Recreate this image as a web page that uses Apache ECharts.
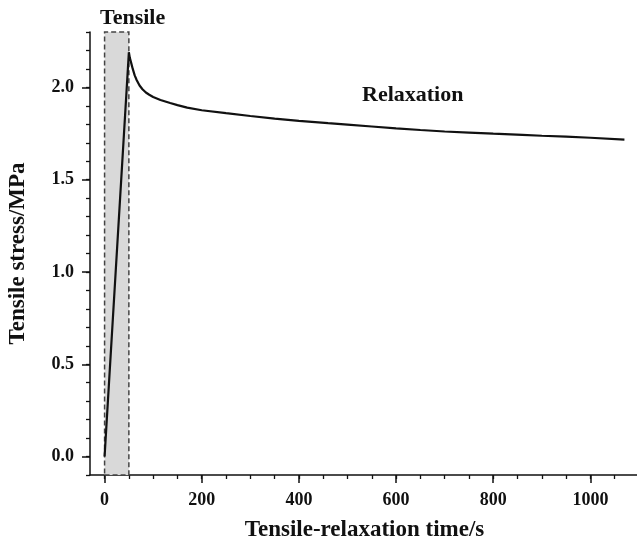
<!DOCTYPE html>
<html>
<head>
<meta charset="utf-8">
<script src="https://cdn.jsdelivr.net/npm/echarts@6/dist/echarts.min.js"></script>
<style>
  html, body { margin: 0; padding: 0; background: #fff; }
  #myChart { width: 637px; height: 548px; }
</style>
</head>
<body>
<div id="myChart"></div>
<script>
// data
var timeData   = [0, 50, 52, 55, 58, 62, 66, 72, 78, 85, 92, 100, 115, 135, 150, 170, 200, 250, 300, 350, 400, 460, 500, 550, 600, 650, 700, 750, 800, 860, 900, 950, 1000, 1070];
var stressData = [0, 2.19, 2.16, 2.13, 2.10, 2.065, 2.04, 2.01, 1.99, 1.972, 1.96, 1.948, 1.932, 1.915, 1.904, 1.89, 1.876, 1.86, 1.845, 1.831, 1.819, 1.806, 1.798, 1.788, 1.778, 1.769, 1.761, 1.755, 1.749, 1.743, 1.738, 1.733, 1.727, 1.717];
var tensileRange = [0, 50];

var xMajor = [0, 200, 400, 600, 800, 1000];
var xMinor = [0, 50, 100, 150, 200, 250, 300, 350, 400, 450, 500, 550, 600, 650, 700, 750, 800, 850, 900, 950, 1000, 1050, 1100];
var yMajor = [0, 0.5, 1.0, 1.5, 2.0];
var yMinor = [-0.1, 0, 0.1, 0.2, 0.3, 0.4, 0.5, 0.6, 0.7, 0.8, 0.9, 1.0, 1.1, 1.2, 1.3, 1.4, 1.5, 1.6, 1.7, 1.8, 1.9, 2.0, 2.1, 2.2, 2.3];

var font = '"Liberation Serif", "Times New Roman", serif';
var myChart = echarts.init(document.getElementById('myChart'));

var lineData = timeData.map(function (t, i) { return [t, stressData[i]]; });

var option = {
  backgroundColor: '#fff',
  animation: false,
  grid: {
    left: 90,
    top: 32,
    width: 549,
    height: 443,
    containLabel: false,
    outerBoundsMode: 'none'
  },
  xAxis: [
    {
      type: 'value',
      min: -30,
      max: 1100,
      name: 'Tensile-relaxation time/s',
      nameLocation: 'middle',
      nameGap: 44,
      nameTextStyle: { fontFamily: font, fontWeight: 'bold', fontSize: 23, color: '#111' },
      splitLine: { show: false },
      axisLine: { onZero: false, lineStyle: { color: '#111', width: 1.5 } },
      axisTick: { customValues: xMajor, length: 8, lineStyle: { color: '#111', width: 1.5 } },
      axisLabel: {
        customValues: xMajor,
        margin: 16,
        formatter: function (v) { return String(v); },
        fontFamily: font, fontWeight: 'bold', fontSize: 18, color: '#111'
      }
    },
    {
      type: 'value',
      min: -30,
      max: 1100,
      position: 'bottom',
      splitLine: { show: false },
      axisLine: { show: false, onZero: false },
      axisTick: { customValues: xMinor, length: 4, lineStyle: { color: '#111', width: 1.3 } },
      axisLabel: { show: false }
    }
  ],
  yAxis: [
    {
      type: 'value',
      min: -0.1,
      max: 2.3,
      name: 'Tensile stress/MPa',
      nameLocation: 'middle',
      nameGap: 60,
      nameTextStyle: { fontFamily: font, fontWeight: 'bold', fontSize: 23, color: '#111' },
      splitLine: { show: false },
      axisLine: { show: true, onZero: false, lineStyle: { color: '#111', width: 1.5 } },
      axisTick: { customValues: yMajor, length: 8, lineStyle: { color: '#111', width: 1.5 } },
      axisLabel: {
        customValues: yMajor,
        margin: 16,
        formatter: function (v) { return v.toFixed(1); },
        fontFamily: font, fontWeight: 'bold', fontSize: 18, color: '#111'
      }
    },
    {
      type: 'value',
      min: -0.1,
      max: 2.3,
      position: 'left',
      splitLine: { show: false },
      axisLine: { show: false, onZero: false },
      axisTick: { customValues: yMinor, length: 4, lineStyle: { color: '#111', width: 1.3 } },
      axisLabel: { show: false }
    }
  ],
  series: [
    {
      type: 'line',
      data: lineData,
      smooth: false,
      showSymbol: false,
      lineStyle: { color: '#111', width: 2.2 },
      markArea: {
        silent: true,
        itemStyle: {
          color: '#d9d9d9',
          borderColor: '#444',
          borderWidth: 1.5,
          borderType: [5, 3]
        },
        data: [[{ xAxis: tensileRange[0] }, { xAxis: tensileRange[1] }]]
      },
      z: 3
    }
  ],
  graphic: [
    {
      type: 'text',
      left: 100,
      top: 7,
      style: { text: 'Tensile', fontFamily: font, fontWeight: 'bold', fontSize: 22, fill: '#111' }
    },
    {
      type: 'text',
      left: 362,
      top: 84,
      style: { text: 'Relaxation', fontFamily: font, fontWeight: 'bold', fontSize: 22, fill: '#111' }
    }
  ]
};
myChart.setOption(option);
</script>
</body>
</html>
